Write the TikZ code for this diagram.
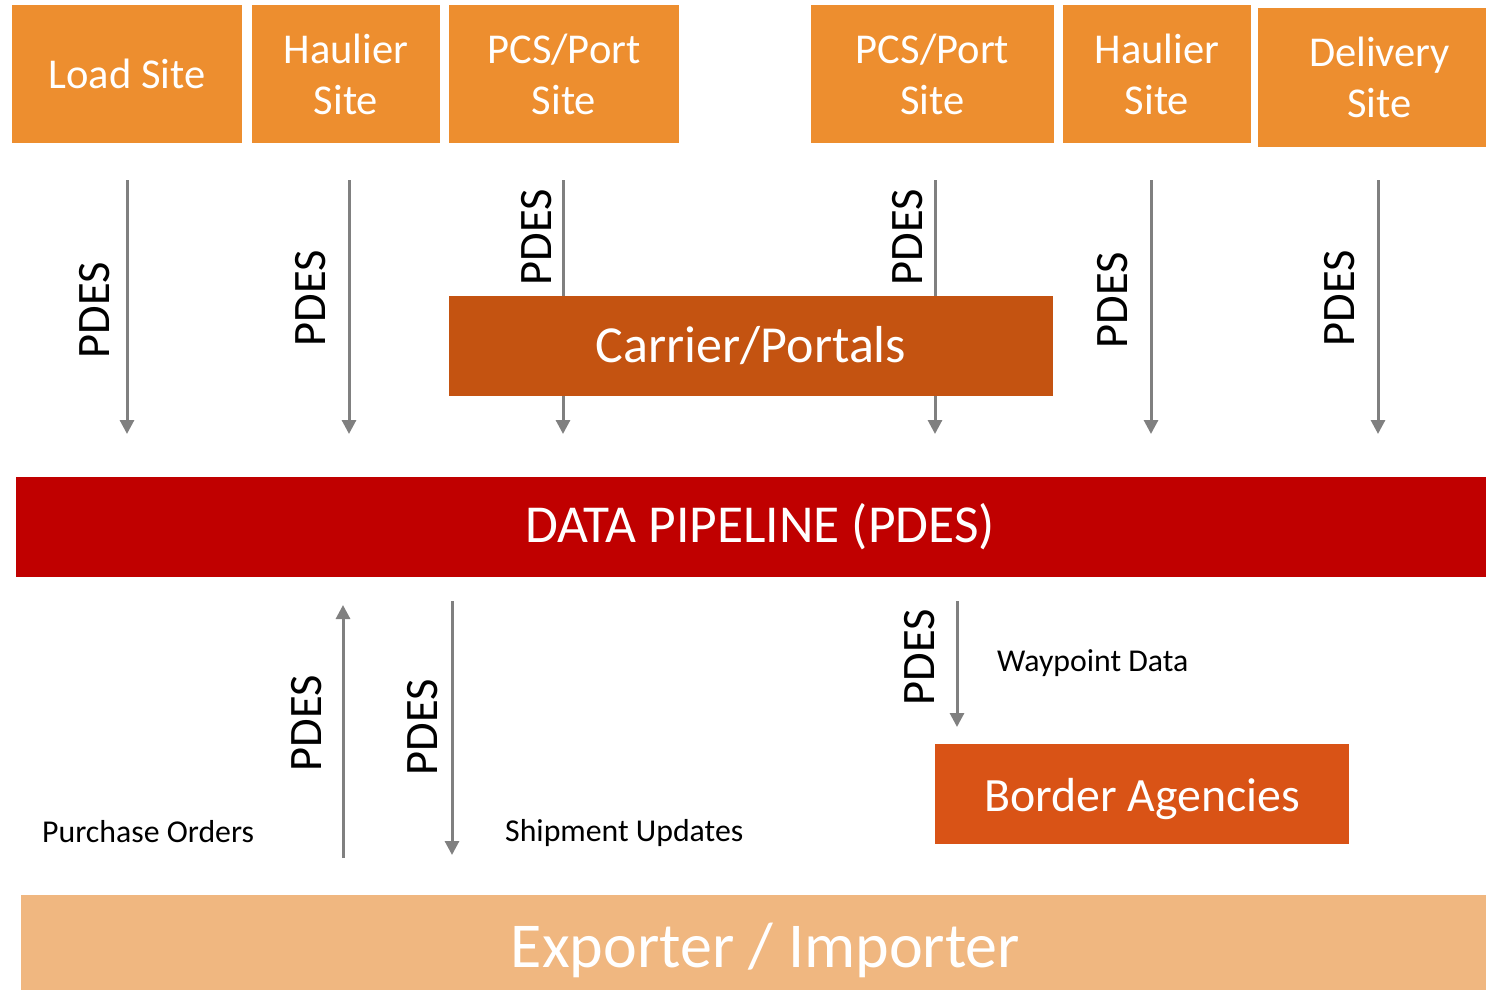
\documentclass[tikz,border=0pt]{standalone}
\usepackage{fontspec}
\setmainfont{Carlito}
\usetikzlibrary{arrows.meta}
\definecolor{siteorange}{HTML}{ED8E2F}
\definecolor{carrierc}{HTML}{C45311}
\definecolor{pipered}{HTML}{C00000}
\definecolor{borderc}{HTML}{D95316}
\definecolor{expc}{HTML}{F0B780}
\definecolor{arrowgray}{HTML}{808080}
\tikzset{
  sitebox/.style={fill=siteorange, text=white, inner sep=0pt, align=center,
    font=\fontsize{42.5}{51}\selectfont},
  bigbox/.style={inner sep=0pt, text=white, minimum height=100pt},
  flow/.style={draw=arrowgray, line width=3pt, -{Triangle[width=14pt,length=14pt]}},
  pdes/.style={rotate=90, inner sep=0pt, font=\fontsize{46.5}{50}\selectfont},
  lbl/.style={inner sep=0pt, anchor=west, font=\fontsize{31.8}{36}\selectfont}
}
\begin{document}
\begin{tikzpicture}[x=1pt,y=-1pt]
\useasboundingbox (0,0) rectangle (1486,990);
% top site boxes
\node[sitebox, minimum width=230pt, minimum height=138pt] (load) at (127,74) {Load Site};
\node[sitebox, minimum width=188pt, minimum height=138pt] (haul1) at (346,74) {Haulier\\Site};
\node[sitebox, minimum width=230pt, minimum height=138pt] (pcs1) at (564,74) {PCS/Port\\Site};
\node[sitebox, minimum width=243pt, minimum height=138pt] (pcs2) at (932.5,74) {PCS/Port\\Site};
\node[sitebox, minimum width=188pt, minimum height=138pt] (haul2) at (1157,74) {Haulier\\Site};
\node[sitebox, minimum width=243pt, minimum height=139pt] (deliv) at (1379.5,77.5) {Delivery\\Site};
% arrow coordinates
\coordinate (a1s) at (127,180); \coordinate (a1e) at (127,434);
\coordinate (a2s) at (349,180); \coordinate (a2e) at (349,434);
\coordinate (a3s) at (563,180); \coordinate (a3e) at (563,434);
\coordinate (a4s) at (935,180); \coordinate (a4e) at (935,434);
\coordinate (a5s) at (1151,180); \coordinate (a5e) at (1151,434);
\coordinate (a6s) at (1378,180); \coordinate (a6e) at (1378,434);
\draw[flow] (a1s) -- (a1e);
\draw[flow] (a2s) -- (a2e);
\draw[flow] (a3s) -- (a3e);
\draw[flow] (a4s) -- (a4e);
\draw[flow] (a5s) -- (a5e);
\draw[flow] (a6s) -- (a6e);
% carrier box on top of lines
\node[bigbox, fill=carrierc, minimum width=604pt, font=\fontsize{52}{56}\selectfont] (carrier) at (751,346) {Carrier/Portals};
% PDES labels top
\node[pdes] (p1) at (95,310) {PDES};
\node[pdes] (p2) at (311,298) {PDES};
\node[pdes] (p3) at (537,237) {PDES};
\node[pdes] (p4) at (908,237) {PDES};
\node[pdes] (p5) at (1113,300) {PDES};
\node[pdes] (p6) at (1340,298) {PDES};
% pipeline
\node[bigbox, fill=pipered, minimum width=1488pt, font=\fontsize{53.4}{58}\selectfont] (pipe) at (760,527) {DATA PIPELINE (PDES)};
% border agencies
\node[bigbox, fill=borderc, minimum width=414pt, font=\fontsize{47.8}{52}\selectfont] (border) at (1142,794) {\smash{\raisebox{-17pt}{Border Agencies}}};
% exporter
\node[bigbox, fill=expc, minimum width=1489pt, minimum height=95pt, font=\fontsize{64}{70}\selectfont] (exp) at (765.5,942.5) {\smash{\raisebox{-24.5pt}{Exporter / Importer}}};
% lower arrows
\coordinate (b1s) at (343,858); \coordinate (b1e) at (343,605);
\coordinate (b2s) at (452,601); \coordinate (b2e) at (452,855);
\coordinate (b3s) at (957,601); \coordinate (b3e) at (957,727);
\draw[flow] (b1s) -- (b1e);
\draw[flow] (b2s) -- (b2e);
\draw[flow] (b3s) -- (b3e);
\node[pdes] (q1) at (307,723) {PDES};
\node[pdes] (q2) at (423,727) {PDES};
\node[pdes] (q3) at (920,657) {PDES};
% text labels
\node[lbl] (po) at (42,832) {Purchase Orders};
\node[lbl] (su) at (505,833) {Shipment Updates};
\node[lbl] (wd) at (997,663) {Waypoint Data};
\end{tikzpicture}
\end{document}
